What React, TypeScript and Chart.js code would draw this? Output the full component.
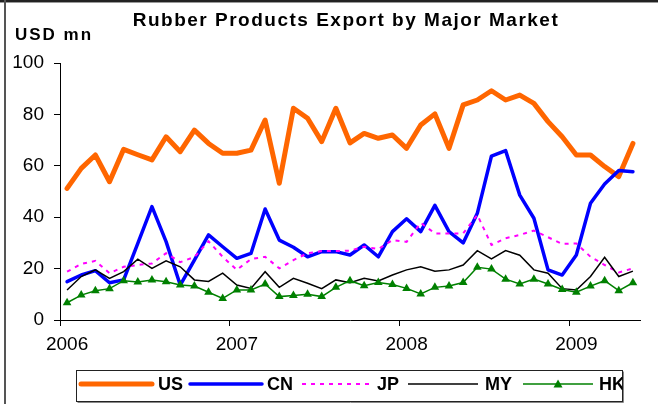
import React, { useEffect, useRef } from 'react';
import { Chart, registerables } from 'chart.js';

Chart.register(...registerables);

const months = [
  'Jan 2006', 'Feb 2006', 'Mar 2006', 'Apr 2006', 'May 2006', 'Jun 2006', 'Jul 2006', 'Aug 2006', 'Sep 2006', 'Oct 2006', 'Nov 2006', 'Dec 2006',
  'Jan 2007', 'Feb 2007', 'Mar 2007', 'Apr 2007', 'May 2007', 'Jun 2007', 'Jul 2007', 'Aug 2007', 'Sep 2007', 'Oct 2007', 'Nov 2007', 'Dec 2007',
  'Jan 2008', 'Feb 2008', 'Mar 2008', 'Apr 2008', 'May 2008', 'Jun 2008', 'Jul 2008', 'Aug 2008', 'Sep 2008', 'Oct 2008', 'Nov 2008', 'Dec 2008',
  'Jan 2009', 'Feb 2009', 'Mar 2009', 'Apr 2009', 'May 2009',
];
const yearLabels = ['2006', '2007', '2008', '2009'];
const yTicks = [0, 20, 40, 60, 80, 100];

const usValues = [51.2, 59, 64.2, 53.8, 66.4, 64.3, 62.3, 71.3, 65.5, 73.9, 68.7, 64.9, 64.9, 66.1, 77.8, 53.2, 82.4, 78.5, 69.4, 82.4, 68.9, 72.6, 70.7, 72.0, 66.8, 75.9, 80.2, 66.8, 83.7, 85.6, 89.2, 85.6, 87.5, 84.3, 77.2, 71.3, 64.2, 64.2, 59.7, 55.8, 68.7];
const cnValues = [14.9, 17.5, 19.2, 14.5, 15.6, 29.8, 44.1, 30.5, 13.6, 23.3, 33.1, 28.5, 24.0, 25.9, 43.2, 31.1, 28.3, 24.6, 26.6, 26.6, 25.3, 29.2, 24.6, 34.4, 39.4, 34.4, 44.6, 34.4, 30.0, 41.5, 63.8, 65.9, 48.6, 39.6, 19.5, 17.5, 25.3, 45.4, 52.9, 58.2, 57.7];
const jpValues = [18.8, 21.8, 23.0, 18.2, 20.7, 21.4, 22, 26, 22.5, 24.5, 30.6, 24.6, 19.5, 23.7, 24.6, 20.1, 23.3, 26, 26.8, 26.8, 27.0, 28.5, 27.6, 31.1, 30.4, 37.8, 33.7, 33.7, 33.7, 40.9, 29.2, 31.8, 33.1, 34.8, 32.2, 29.6, 29.8, 24.6, 21.4, 18.5, 20.1];
const myValues = [11.7, 16.9, 19.5, 16.2, 18.8, 23.7, 20.1, 23, 20.7, 15.6, 15, 18.2, 13.6, 12.3, 18.8, 12.7, 16.2, 14.3, 12.2, 15.6, 14.5, 16.2, 15.2, 17.5, 19.5, 20.7, 19, 19.5, 21.4, 27, 23.8, 27, 25.2, 19.5, 18.2, 12.2, 11.7, 16.9, 24.4, 16.9, 19];
const hkValues = [6.7, 9.7, 11.4, 12.2, 15.3, 14.8, 15.6, 14.9, 13.6, 13.2, 10.8, 8.4, 11.7, 11.7, 14, 9.1, 9.5, 10, 9.1, 12.7, 15.3, 13.3, 14.6, 13.8, 12.3, 10.1, 12.7, 13.2, 14.6, 20.5, 19.8, 15.9, 14, 15.9, 14, 11.9, 10.8, 13.2, 15.3, 11.4, 14.5];

const seriesNames = ['US', 'CN', 'JP', 'MY', 'HK'];
const titleText = 'Rubber Products Export by Major Market';
const unitText = 'USD mn';

const FONT = '"Liberation Sans", Arial, sans-serif';

const COLORS = {
  US: '#FF6600',
  CN: '#0000FF',
  JP: '#FF00FF',
  MY: '#000000',
  HK: '#008000',
};

export default function App() {
  const ref = useRef<HTMLCanvasElement>(null);

  useEffect(() => {
    const canvas = ref.current;
    if (!canvas) return;

    const decor = {
      id: 'decor',
      beforeDraw(chart: any) {
        const ctx = chart.ctx;
        ctx.save();
        ctx.fillStyle = '#ffffff';
        ctx.fillRect(0, 0, chart.width, chart.height);
        ctx.restore();
      },
      afterDraw(chart: any) {
        const ctx: CanvasRenderingContext2D = chart.ctx;
        ctx.save();
        // outer frame
        ctx.fillStyle = '#222';
        ctx.fillRect(0, 0, chart.width, 2);
        ctx.fillStyle = '#999';
        ctx.fillRect(0, 2, chart.width, 1);
        ctx.fillStyle = '#555';
        ctx.fillRect(4, 0, 2, chart.height);

        // title
        ctx.fillStyle = '#000';
        ctx.font = `bold 19px ${FONT}`;
        ctx.textAlign = 'center';
        ctx.textBaseline = 'middle';
        (ctx as any).letterSpacing = '1.5px';
        ctx.fillText(titleText, 346, 21);

        // unit label
        ctx.font = `bold 17px ${FONT}`;
        ctx.textAlign = 'left';
        (ctx as any).letterSpacing = '2px';
        ctx.fillText(unitText, 15, 35);
        (ctx as any).letterSpacing = '0px';

        // legend box
        const bx = 76.5, by = 370.5, bw = 546, bh = 31;
        ctx.fillStyle = '#fff';
        ctx.fillRect(bx, by, bw, bh);
        ctx.strokeStyle = '#888';
        ctx.lineWidth = 1;
        ctx.beginPath();
        ctx.moveTo(bx + bw + 1, by + 1);
        ctx.lineTo(bx + bw + 1, by + bh + 1);
        ctx.lineTo(bx + 1, by + bh + 1);
        ctx.stroke();
        ctx.strokeStyle = '#222';
        ctx.strokeRect(bx, by, bw, bh);

        ctx.save();
        ctx.beginPath();
        ctx.rect(bx, by, bw, bh);
        ctx.clip();
        const cy = 384;
        const items = [
          { name: seriesNames[0], x1: 81, x2: 152, tx: 158, color: COLORS.US, width: 5, dash: [] as number[], tri: false },
          { name: seriesNames[1], x1: 190, x2: 262, tx: 267, color: COLORS.CN, width: 3.5, dash: [], tri: false },
          { name: seriesNames[2], x1: 302, x2: 372, tx: 377, color: COLORS.JP, width: 2, dash: [4, 5], tri: false },
          { name: seriesNames[3], x1: 408, x2: 478, tx: 485, color: COLORS.MY, width: 1.5, dash: [], tri: false },
          { name: seriesNames[4], x1: 523, x2: 593, tx: 599, color: COLORS.HK, width: 1.5, dash: [], tri: true },
        ];
        for (const it of items) {
          ctx.strokeStyle = it.color;
          ctx.lineWidth = it.width;
          ctx.lineCap = it.width >= 3 ? 'round' : 'butt';
          ctx.setLineDash(it.dash);
          ctx.beginPath();
          ctx.moveTo(it.x1, cy);
          ctx.lineTo(it.x2, cy);
          ctx.stroke();
          ctx.setLineDash([]);
          if (it.tri) {
            const mx = (it.x1 + it.x2) / 2;
            ctx.fillStyle = it.color;
            ctx.beginPath();
            ctx.moveTo(mx, cy - 4.5);
            ctx.lineTo(mx + 4.5, cy + 3.5);
            ctx.lineTo(mx - 4.5, cy + 3.5);
            ctx.closePath();
            ctx.fill();
          }
          ctx.fillStyle = '#000';
          ctx.font = `bold 18px ${FONT}`;
          ctx.textAlign = 'left';
          ctx.textBaseline = 'middle';
          ctx.fillText(it.name, it.tx, cy + 1);
        }
        ctx.restore();
        ctx.restore();
      },
    };

    const chart = new Chart(canvas, {
      type: 'line',
      data: {
        labels: months,
        datasets: [
          { label: seriesNames[0], data: usValues, borderColor: COLORS.US, backgroundColor: COLORS.US, borderWidth: 5, pointRadius: 0, order: 4, borderJoinStyle: 'round', borderCapStyle: 'round' },
          { label: seriesNames[1], data: cnValues, borderColor: COLORS.CN, backgroundColor: COLORS.CN, borderWidth: 3.5, pointRadius: 0, order: 3, borderJoinStyle: 'round', borderCapStyle: 'round' },
          { label: seriesNames[2], data: jpValues, borderColor: COLORS.JP, backgroundColor: COLORS.JP, borderWidth: 2, borderDash: [4, 5], pointRadius: 0, order: 2 },
          { label: seriesNames[3], data: myValues, borderColor: COLORS.MY, backgroundColor: COLORS.MY, borderWidth: 1.5, pointRadius: 0, order: 1 },
          { label: seriesNames[4], data: hkValues, borderColor: COLORS.HK, backgroundColor: COLORS.HK, borderWidth: 1.5, pointRadius: 5, pointStyle: 'triangle', pointBorderWidth: 0, order: 0 },
        ] as any,
      },
      plugins: [decor],
      options: {
        responsive: false,
        animation: false,
        devicePixelRatio: 1,
        layout: { padding: { left: 0, top: 63, right: 18, bottom: 0 } },
        plugins: {
          legend: { display: false },
          title: { display: false },
          tooltip: { enabled: false },
        },
        elements: { line: { tension: 0 } },
        scales: {
          x: {
            type: 'category',
            offset: true,
            afterFit: (scale: any) => { scale.height = 84; },
            grid: {
              offset: true,
              drawOnChartArea: false,
              drawTicks: true,
              tickLength: 6,
              color: (c: any) => (c.index % 12 === 0 ? '#000' : 'rgba(0,0,0,0)'),
            },
            border: { display: true, color: '#000', width: 1 },
            ticks: {
              autoSkip: false,
              maxRotation: 0,
              minRotation: 0,
              padding: 7,
              color: '#000',
              font: { family: FONT, size: 19 },
              callback: (_v: any, i: number) => (i % 12 === 0 ? yearLabels[i / 12] : ''),
            },
          },
          y: {
            min: 0,
            max: 100,
            afterFit: (scale: any) => { scale.width = 60; },
            afterBuildTicks: (scale: any) => { scale.ticks = yTicks.map((v) => ({ value: v })); },
            grid: { drawOnChartArea: false, drawTicks: true, tickLength: 6, color: '#000' },
            border: { display: true, color: '#000', width: 1 },
            ticks: {
              padding: 10,
              color: '#000',
              font: { family: FONT, size: 19 },
            },
          },
        },
      } as any,
    });

    return () => chart.destroy();
  }, []);

  return (
    <div style={{ position: 'fixed', left: 0, top: 0, width: 658, height: 404, background: '#fff' }}>
      <canvas ref={ref} width={658} height={404} style={{ display: 'block', width: 658, height: 404 }} />
    </div>
  );
}
